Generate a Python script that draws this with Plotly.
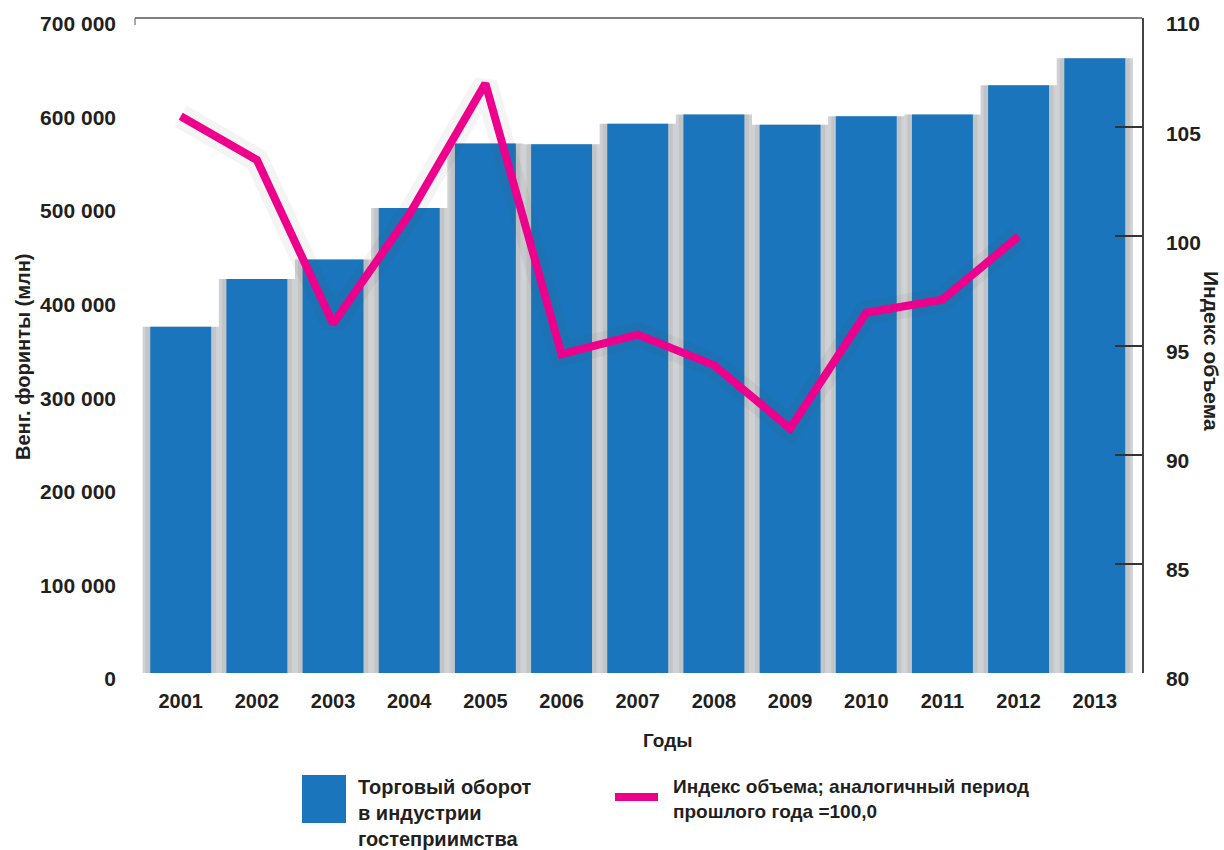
import plotly.graph_objects as go

years = ["2001", "2002", "2003", "2004", "2005", "2006", "2007",
         "2008", "2009", "2010", "2011", "2012", "2013"]
turnover = [370000, 421000, 442000, 497000, 566000, 565000, 587000,
            597000, 586000, 595000, 597000, 628000, 657000]
index_years = years[:12]
volume_index = [105.5, 103.5, 96.0, 101.0, 107.0, 94.6, 95.5,
                94.1, 91.2, 96.5, 97.1, 100.0]

left_ticks = [0, 100000, 200000, 300000, 400000, 500000, 600000, 700000]
left_labels = ["0", "100 000", "200 000", "300 000", "400 000",
               "500 000", "600 000", "700 000"]
right_ticks = [80, 85, 90, 95, 100, 105, 110]

BLUE = "#1b75bc"
MAGENTA = "#ec008c"
TXT = "#231f20"
FONT = "Liberation Sans"

PL, PR, PT, PB = 135, 1142, 18, 673
PW, PH = PR - PL, PB - PT


def px(x):
    return (x - PL) / PW


def py(y):
    return (PB - y) / PH


fig = go.Figure()

# soft shadow behind bars
for w, a in [(1.0, 0.42), (0.92, 0.18)]:
    fig.add_trace(go.Bar(x=years, y=turnover, width=w,
                         marker=dict(color=f"rgba(140,146,152,{a})", line=dict(width=0)),
                         hoverinfo="skip", showlegend=False))

fig.add_trace(go.Bar(x=years, y=turnover, width=0.8,
                     marker=dict(color=BLUE, line=dict(width=0)),
                     name="Торговый оборот в индустрии гостеприимства",
                     showlegend=False))

# line shadow
fig.add_trace(go.Scatter(x=index_years, y=volume_index, yaxis="y2", mode="lines",
                         line=dict(color="rgba(60,60,70,0.06)", width=24),
                         hoverinfo="skip", showlegend=False))
fig.add_trace(go.Scatter(x=index_years, y=volume_index, yaxis="y2", mode="lines",
                         line=dict(color=MAGENTA, width=8),
                         name="Индекс объема", showlegend=False))

fig.update_layout(
    width=1224, height=850,
    margin=dict(l=PL, r=1224 - PR, t=PT, b=850 - PB, autoexpand=False),
    paper_bgcolor="white", plot_bgcolor="white",
    barmode="overlay",
    font=dict(family=FONT, color=TXT, size=20),
    xaxis=dict(type="category", range=[-0.6, 12.62], showgrid=False,
               showline=False, ticks="", zeroline=False, automargin=False,
               tickfont=dict(family=FONT, size=20, color=TXT, weight="bold"),
               ticklabelstandoff=14),
    yaxis=dict(range=[0, 700000], tickvals=left_ticks, ticktext=left_labels,
               showgrid=False, showline=False, ticks="", zeroline=False,
               automargin=False,
               tickfont=dict(family=FONT, size=21, color=TXT, weight="bold"),
               ticklabelstandoff=18, ticklabelshift=6),
    yaxis2=dict(range=[80, 110], tickvals=right_ticks, overlaying="y", side="right",
                showgrid=False, showline=True, linecolor="#444", linewidth=1.5,
                ticks="inside", ticklen=27, tickcolor="#333", tickwidth=1.5,
                zeroline=False, automargin=False,
                tickfont=dict(family=FONT, size=21, color=TXT, weight="bold"),
                ticklabelstandoff=18, ticklabelshift=6),
    showlegend=False,
)

# top frame line + small left tick
fig.add_shape(type="line", xref="paper", yref="paper", x0=0, x1=1, y0=1, y1=1,
              line=dict(color="#555", width=1.5))
fig.add_shape(type="line", xref="paper", yref="paper", x0=0, x1=0, y0=1, y1=py(25),
              line=dict(color="#555", width=1))

# axis titles
fig.add_annotation(text="<b>Венг. форинты (млн)</b>", xref="paper", yref="paper",
                   x=px(23), y=py(357), textangle=-90, showarrow=False,
                   xanchor="center", yanchor="middle",
                   font=dict(family=FONT, size=20, color=TXT))
fig.add_annotation(text="<b>Индекс объема</b>", xref="paper", yref="paper",
                   x=px(1211), y=py(351), textangle=90, showarrow=False,
                   xanchor="center", yanchor="middle",
                   font=dict(family=FONT, size=21, color=TXT))
fig.add_annotation(text="<b>Годы</b>", xref="paper", yref="paper",
                   x=px(667), y=py(740), showarrow=False,
                   xanchor="center", yanchor="middle",
                   font=dict(family=FONT, size=19, color=TXT))

# custom legend
fig.add_shape(type="rect", xref="paper", yref="paper",
              x0=px(302), x1=px(346), y0=py(823), y1=py(775),
              fillcolor=BLUE, line=dict(width=0))
fig.add_shape(type="line", xref="paper", yref="paper",
              x0=px(615), x1=px(658), y0=py(797), y1=py(797),
              line=dict(color=MAGENTA, width=8))
fig.add_annotation(text="<b>Торговый оборот<br>в индустрии<br>гостеприимства</b>",
                   xref="paper", yref="paper", x=px(356), y=py(774),
                   xanchor="left", yanchor="top", align="left", showarrow=False,
                   font=dict(family=FONT, size=20, color=TXT))
fig.add_annotation(text="<b>Индекс объема; аналогичный период<br>прошлого года =100,0</b>",
                   xref="paper", yref="paper", x=px(671), y=py(774),
                   xanchor="left", yanchor="top", align="left", showarrow=False,
                   font=dict(family=FONT, size=19, color=TXT))

fig.write_html("out.html")
